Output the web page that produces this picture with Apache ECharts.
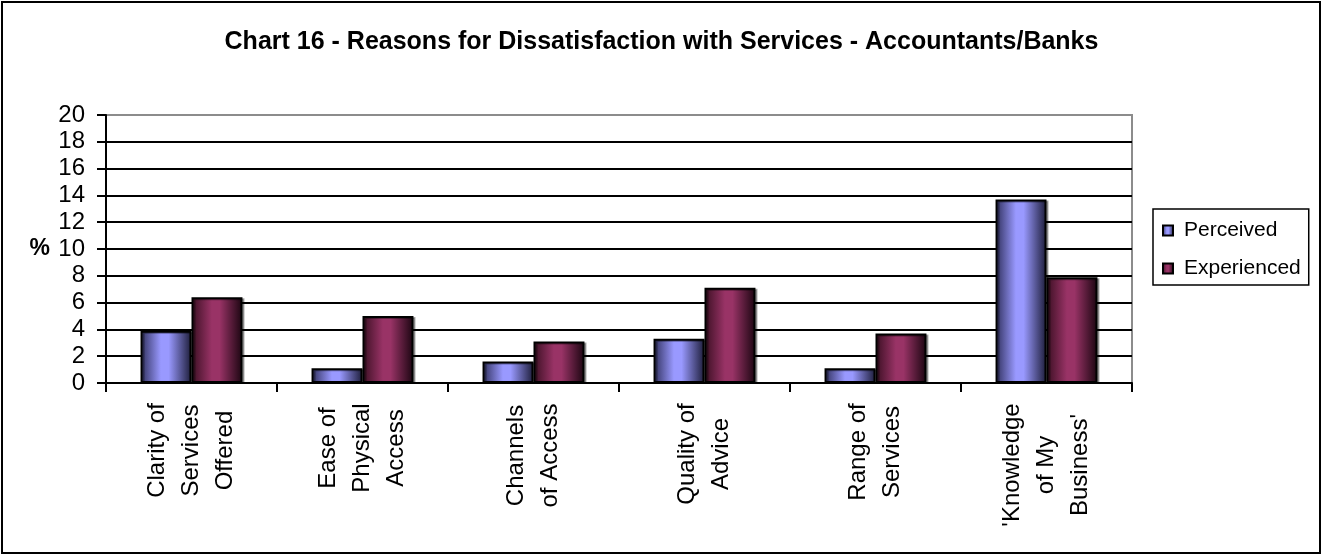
<!DOCTYPE html>
<html>
<head>
<meta charset="utf-8">
<script src="https://cdn.jsdelivr.net/npm/echarts@6/dist/echarts.min.js"></script>
<style>
html,body{margin:0;padding:0;background:#fff;}
#c{width:1323px;height:556px;}
</style>
</head>
<body>
<div id="c"></div>
<script>
const title = 'Chart 16 - Reasons for Dissatisfaction with Services - Accountants/Banks';
const categories = [
  'Clarity of\nServices\nOffered',
  'Ease of\nPhysical\nAccess',
  'Channels\nof Access',
  'Quality of\nAdvice',
  'Range of\nServices',
  "'Knowledge\nof My\nBusiness'"
];
const perceived = [3.9, 1.1, 1.6, 3.3, 1.1, 13.7];
const experienced = [6.4, 5.0, 3.1, 7.1, 3.7, 7.9];
const seriesNames = ['Perceived', 'Experienced'];
const yTicks = [0, 2, 4, 6, 8, 10, 12, 14, 16, 18, 20];

const FONT = '"Liberation Sans", Arial, sans-serif';
const LABEL_SIZE = 24;

// measure each label's longest line so its lines can be centred in one block
const mctx = document.createElement('canvas').getContext('2d');
mctx.font = LABEL_SIZE + 'px ' + FONT;
const richStyles = {};
categories.forEach((cat, i) => {
  const w = Math.max.apply(null, cat.split('\n').map(s => mctx.measureText(s).width));
  richStyles['c' + i] = {
    width: Math.ceil(w) + 2, align: 'center',
    fontFamily: FONT, fontSize: LABEL_SIZE, lineHeight: 34, color: '#000'
  };
});

function grad(edgeL, mid, edgeR) {
  return {
    type: 'linear', x: 0, y: 0, x2: 1, y2: 0,
    colorStops: [
      {offset: 0, color: edgeL},
      {offset: 0.4, color: mid},
      {offset: 0.55, color: mid},
      {offset: 1, color: edgeR}
    ]
  };
}

const chart = echarts.init(document.getElementById('c'), null, {renderer: 'canvas'});
const splitColors = yTicks.map((v, i) => i === yTicks.length - 1 ? '#8c8c8c' : '#000');

chart.setOption({
  backgroundColor: '#fff',
  animation: false,
  title: {
    text: title,
    left: 'center',
    top: 25,
    textStyle: {fontFamily: FONT, fontSize: 25, fontWeight: 'bold', color: '#000'}
  },
  legend: {
    orient: 'vertical',
    left: 1153,
    top: 209,
    padding: [11, 8, 6, 9],
    itemWidth: 10,
    itemHeight: 10,
    itemGap: 17,
    borderColor: '#000',
    borderWidth: 1.5,
    icon: 'rect',
    textStyle: {fontFamily: FONT, fontSize: 21, color: '#000', lineHeight: 21, padding: [0, 0, 0, 6]},
    data: seriesNames
  },
  grid: {
    left: 106, right: 191, top: 115, bottom: 173,
    show: true, borderColor: '#8c8c8c', borderWidth: 2, backgroundColor: '#fff'
  },
  xAxis: {
    type: 'category',
    data: categories,
    boundaryGap: true,
    axisLine: {lineStyle: {color: '#000', width: 2}},
    axisTick: {show: true, alignWithLabel: false, length: 9, lineStyle: {color: '#000', width: 2}},
    axisLabel: {
      rotate: 90,
      margin: 19,
      interval: 0,
      align: 'right',
      formatter: function (v, idx) {
        return v.split('\n').map(s => '{c' + idx + '|' + s + '}').join('\n');
      },
      rich: richStyles
    }
  },
  yAxis: {
    type: 'value',
    min: 0, max: 20, interval: 2,
    name: '%',
    nameLocation: 'middle',
    nameRotate: 0,
    nameGap: 56,
    nameTextStyle: {fontFamily: FONT, fontSize: 23, fontWeight: 'bold', color: '#000', align: 'right', verticalAlign: 'middle'},
    axisLine: {show: true, lineStyle: {color: '#000', width: 2}},
    axisTick: {show: true, length: 9, lineStyle: {color: '#000', width: 2}},
    axisLabel: {margin: 21, fontFamily: FONT, fontSize: 24, color: '#000'},
    splitLine: {show: true, lineStyle: {color: splitColors, width: 2}}
  },
  series: [
    {
      name: seriesNames[0],
      type: 'bar',
      data: perceived,
      barWidth: '29.8%',
      barGap: '0%',
      itemStyle: {
        color: grad('#2f2f5c', '#9999ff', '#1c1c38'),
        borderColor: '#000',
        borderWidth: 2,
        shadowColor: 'rgba(0,0,0,0.35)',
        shadowOffsetX: 2,
        shadowOffsetY: 1
      }
    },
    {
      name: seriesNames[1],
      type: 'bar',
      data: experienced,
      barWidth: '29.8%',
      barGap: '0%',
      itemStyle: {
        color: grad('#3a0f22', '#993366', '#1a0510'),
        borderColor: '#000',
        borderWidth: 2,
        shadowColor: 'rgba(0,0,0,0.35)',
        shadowOffsetX: 2,
        shadowOffsetY: 1
      }
    }
  ],
  graphic: [{
    type: 'rect',
    shape: {x: 2, y: 2, width: 1318, height: 551},
    style: {fill: 'none', stroke: '#000', lineWidth: 2},
    silent: true,
    z: 100
  }]
});
</script>
</body>
</html>
